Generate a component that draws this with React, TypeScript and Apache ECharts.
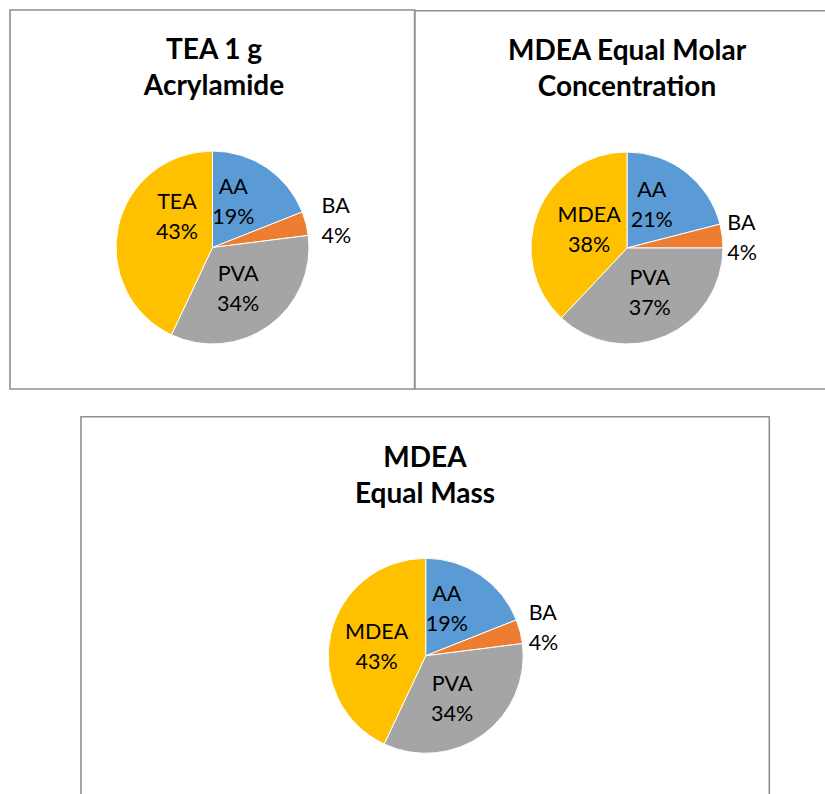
import React, { useEffect, useRef } from "react";
import * as echarts from "echarts";

// ---- data ----
const panel1Title = "TEA 1 g\nAcrylamide";
const panel1Names = ["AA", "BA", "PVA", "TEA"];
const panel1Values = [19, 4, 34, 43];

const panel2Title = "MDEA Equal Molar\nConcentration";
const panel2Names = ["AA", "BA", "PVA", "MDEA"];
const panel2Values = [21, 4, 37, 38];

const panel3Title = "MDEA\nEqual Mass";
const panel3Names = ["AA", "BA", "PVA", "MDEA"];
const panel3Values = [19, 4, 34, 43];

const sliceColors = ["#5B9BD5", "#ED7D31", "#A5A5A5", "#FFC000"];

// label nudges (pixels, relative to library-computed label spot)
const nudges1 = [[-8, -4], [10.5, -3.5], [-4.5, -1], [14.5, -20]];
const nudges2 = [[-6.5, -3.5], [0, 1], [2.5, -3], [9.5, 0]];
const nudges3 = [[-8, -4.5], [3.5, -4.5], [-4, 0.5], [1.5, 1.5]];

const FONT = "Lato, 'Open Sans', sans-serif";
const BORDER = "#8f8f8f";

function pieSeries(
  names: string[],
  values: number[],
  center: [number, number],
  radius: number,
  nudges: number[][]
) {
  return {
    type: "pie",
    center,
    radius,
    startAngle: 90,
    clockwise: true,
    avoidLabelOverlap: false,
    silent: true,
    itemStyle: { borderColor: "#ffffff", borderWidth: 1 },
    labelLine: { show: false, length: 0, length2: 0 },
    label: {
      show: true,
      position: "inside",
      color: "#000000",
      fontFamily: FONT,
      fontSize: 21.5,
      lineHeight: 30,
      distanceToLabelLine: 5,
      formatter: (p: any) => `${p.name}\n${Math.round(p.percent)}%`,
    },
    labelLayout: (p: any) => ({
      dx: nudges[p.dataIndex][0],
      dy: nudges[p.dataIndex][1],
    }),
    data: names.map((n, i) => ({
      name: n,
      value: values[i],
      itemStyle: { color: sliceColors[i] },
      label: n === "BA" ? { position: "outside" } : undefined,
    })),
  };
}

function titleText(text: string, x: number, y: number) {
  return {
    type: "text",
    x,
    y,
    silent: true,
    style: {
      text,
      fill: "#000000",
      font: `bold 28px ${FONT}`,
      lineHeight: 36.5,
      align: "center",
      verticalAlign: "middle",
    },
  };
}

function frame(x1: number, y1: number, x2: number, y2: number) {
  return {
    type: "rect",
    silent: true,
    shape: { x: x1, y: y1, width: x2 - x1, height: y2 - y1 },
    style: { fill: "none", stroke: BORDER, lineWidth: 1.6 },
  };
}

export default function App() {
  const ref = useRef<HTMLDivElement>(null);
  useEffect(() => {
    if (!ref.current) return;
    const chart = echarts.init(ref.current, undefined, { renderer: "svg" });
    chart.setOption({
      animation: false,
      backgroundColor: "#ffffff",
      graphic: [
        frame(10, 10, 414.7, 389),
        frame(414.7, 10.7, 832, 389),
        frame(81, 416.7, 769.3, 802),
        titleText(panel1Title, 214, 66),
        titleText(panel2Title, 627, 67),
        titleText(panel3Title, 425, 474),
      ],
      series: [
        pieSeries(panel1Names, panel1Values, [212.5, 247.5], 96.5, nudges1),
        pieSeries(panel2Names, panel2Values, [627, 248], 96, nudges2),
        pieSeries(panel3Names, panel3Values, [425.7, 655.8], 97.5, nudges3),
      ],
    });
    return () => chart.dispose();
  }, []);
  return (
    <div
      ref={ref}
      style={{ position: "fixed", left: 0, top: 0, width: 825, height: 794 }}
    />
  );
}
